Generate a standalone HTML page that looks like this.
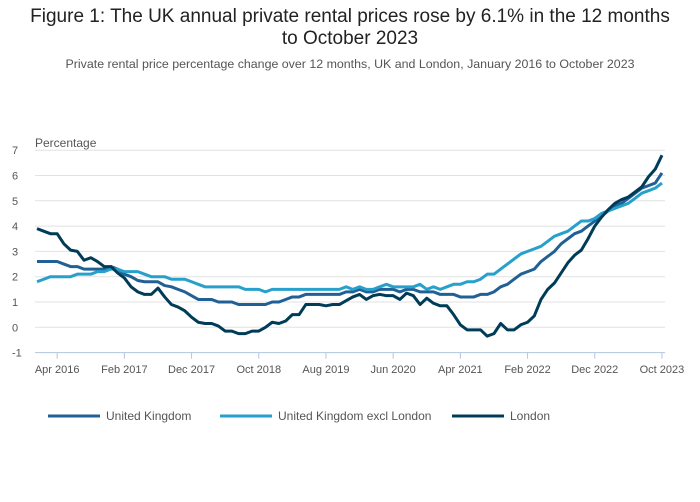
<!DOCTYPE html>
<html><head><meta charset="utf-8">
<style>
body{margin:0;background:#fff;font-family:"Liberation Sans",sans-serif;}
#wrap{position:relative;width:700px;height:502px;overflow:hidden;}
h1{position:absolute;top:6px;left:0;width:700px;margin:0;text-align:center;font-weight:normal;font-size:19px;line-height:22px;color:#222;}
.sub{position:absolute;top:57px;left:0;width:700px;text-align:center;font-size:12.4px;color:#555;}
</style></head>
<body><div id="wrap">
<h1>Figure 1: The UK annual private rental prices rose by 6.1% in the 12 months<br>to October 2023</h1>
<div class="sub">Private rental price percentage change over 12 months, UK and London, January 2016 to October 2023</div>
<svg id="chart" width="700" height="502" style="position:absolute;left:0;top:0"></svg>
</div>
<script>
const yTicks=[-1,0,1,2,3,4,5,6,7];
const xTickLabels=["Apr 2016","Feb 2017","Dec 2017","Oct 2018","Aug 2019","Jun 2020","Apr 2021","Feb 2022","Dec 2022","Oct 2023"];
const xTickIdx=[3,13,23,33,43,53,63,73,83,93];
const seriesNames=["United Kingdom","United Kingdom excl London","London"];
const uk=[2.6,2.6,2.6,2.6,2.5,2.4,2.4,2.3,2.3,2.3,2.3,2.4,
2.3,2.1,2.0,1.85,1.8,1.8,1.8,1.65,1.6,1.5,1.4,1.25,
1.1,1.1,1.1,1.0,1.0,1.0,0.9,0.9,0.9,0.9,0.9,1.0,
1.0,1.1,1.2,1.2,1.3,1.3,1.3,1.3,1.3,1.3,1.4,1.4,
1.5,1.4,1.4,1.5,1.5,1.5,1.4,1.5,1.5,1.4,1.4,1.4,
1.3,1.3,1.3,1.2,1.2,1.2,1.3,1.3,1.4,1.6,1.7,1.9,
2.1,2.2,2.3,2.6,2.8,3.0,3.3,3.5,3.7,3.8,4.0,4.2,
4.4,4.6,4.8,4.9,5.1,5.3,5.5,5.6,5.7,6.1];
const ukExLondon=[1.8,1.9,2.0,2.0,2.0,2.0,2.1,2.1,2.1,2.2,2.2,2.3,
2.3,2.2,2.2,2.2,2.1,2.0,2.0,2.0,1.9,1.9,1.9,1.8,
1.7,1.6,1.6,1.6,1.6,1.6,1.6,1.5,1.5,1.5,1.4,1.5,
1.5,1.5,1.5,1.5,1.5,1.5,1.5,1.5,1.5,1.5,1.6,1.5,
1.6,1.5,1.5,1.6,1.7,1.6,1.6,1.6,1.6,1.7,1.5,1.6,
1.5,1.6,1.7,1.7,1.8,1.8,1.9,2.1,2.1,2.3,2.5,2.7,
2.9,3.0,3.1,3.2,3.4,3.6,3.7,3.8,4.0,4.2,4.2,4.3,
4.5,4.6,4.7,4.8,4.9,5.1,5.3,5.4,5.5,5.7];
const london=[3.9,3.8,3.7,3.7,3.3,3.05,3.0,2.65,2.75,2.6,2.4,2.4,
2.15,1.95,1.6,1.4,1.3,1.3,1.55,1.2,0.9,0.8,0.65,0.4,
0.2,0.15,0.15,0.05,-0.15,-0.15,-0.25,-0.25,-0.15,-0.15,0,0.2,
0.15,0.25,0.5,0.5,0.9,0.9,0.9,0.85,0.9,0.9,1.05,1.2,
1.3,1.1,1.25,1.3,1.25,1.25,1.1,1.35,1.25,0.9,1.15,0.95,
0.85,0.85,0.5,0.1,-0.1,-0.1,-0.1,-0.35,-0.25,0.15,-0.1,-0.1,
0.1,0.2,0.45,1.1,1.5,1.75,2.15,2.55,2.85,3.05,3.5,4.0,
4.35,4.65,4.9,5.05,5.15,5.35,5.55,5.95,6.25,6.8];
const colors=["#206095","#27a0cc","#003c57"];
const NS="http://www.w3.org/2000/svg";
const svg=document.getElementById('chart');
const X=i=>37+i*6.72;
const Y=v=>327.3-25.3*v;
function mk(t,a){const e=document.createElementNS(NS,t);for(const k in a)e.setAttribute(k,a[k]);svg.appendChild(e);return e;}
yTicks.forEach(v=>{
  const g=mk('line',{x1:35,x2:665,y1:Y(v),y2:Y(v),stroke:v===-1?'#b3c4dc':'#e2e2e2','stroke-width':1});
  
  
  const t=mk('text',{x:12,y:Y(v)+4,'font-size':11,fill:'#555','font-family':'Liberation Sans,sans-serif'});
  t.textContent=v;
  
  
});
const yt=mk('text',{x:35,y:147,'font-size':12,fill:'#555','font-family':'Liberation Sans,sans-serif'});
yt.textContent='Percentage';


xTickIdx.forEach((i,k)=>{
  const l=mk('line',{x1:X(i),x2:X(i),y1:Y(-1),y2:Y(-1)+6,stroke:'#b3c4dc'});
  
  
  const t=mk('text',{x:X(i),y:373,'font-size':11,fill:'#555','text-anchor':'middle','font-family':'Liberation Sans,sans-serif'});
  t.textContent=xTickLabels[k];
  
  
});
[uk,ukExLondon,london].forEach((s,k)=>{
  const p=mk('polyline',{points:s.map((v,i)=>X(i)+','+Y(v)).join(' '),fill:'none',stroke:colors[k],'stroke-width':3,'stroke-linejoin':'round'});
  
  
});
const legX=[48,220,452];
seriesNames.forEach((n,k)=>{
  const l=mk('line',{x1:legX[k],x2:legX[k]+52,y1:416,y2:416,stroke:colors[k],'stroke-width':3});
  
  
  const t=mk('text',{x:legX[k]+58,y:420,'font-size':12,fill:'#555','font-family':'Liberation Sans,sans-serif'});
  t.textContent=n;
  
  
});
</script>
</body></html>
